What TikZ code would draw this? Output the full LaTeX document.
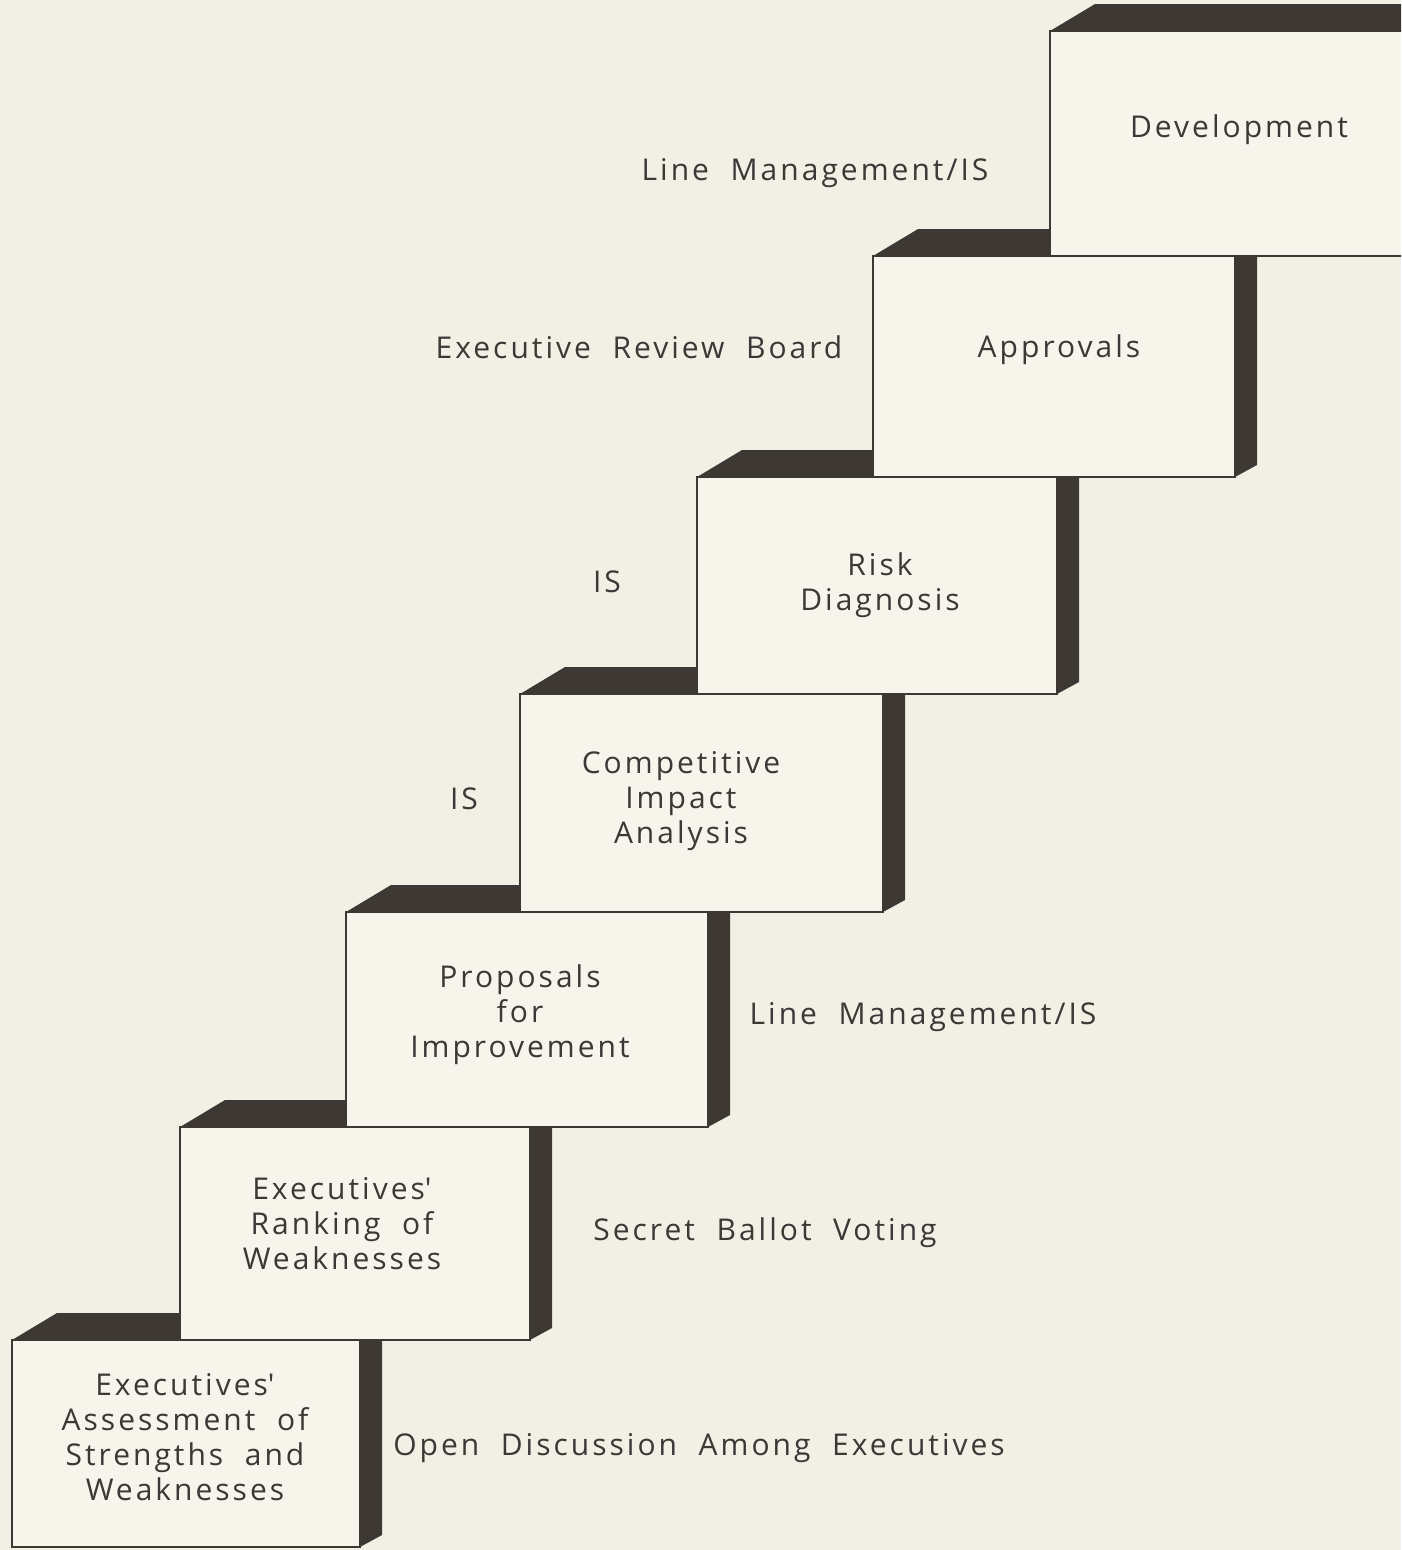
\documentclass[tikz,border=0pt]{standalone}
\usepackage{fontspec}
\setmainfont{Open Sans}[LetterSpace=10, WordSpace=2.0]
\usetikzlibrary{calc}

\definecolor{paper}{HTML}{F2F0E5}
\definecolor{facelight}{HTML}{F6F4EB}
\definecolor{shade}{HTML}{3D3833}
\definecolor{ink}{HTML}{3A3936}

\tikzset{
  front/.style={draw=shade, line width=2.2pt, fill=facelight, inner sep=0pt,
    outer sep=0pt, anchor=north west},
  shadeface/.style={fill=shade},
  % anchor=base sits on the baseline of the last line of a block
  txt/.style={text=ink, font=\fontsize{30}{35}\selectfont, align=center,
    inner sep=0pt, anchor=base},
}

% one step of the staircase: name, left, top, right, bottom (pixel units, y downwards)
\newcommand\stairbox[5]{%
  \fill[shadeface] (#4,#3-27) -- (#4+22,#3-27) -- (#4+22,#5-12) -- (#4,#5) -- cycle;
  \fill[shadeface] (#2,#3) -- (#2+45,#3-27) -- (#4,#3-27) -- (#4,#3) -- cycle;
  \node[front, minimum width={(#4-#2)*1pt}, minimum height={(#5-#3)*1pt}] (#1) at (#2,#3) {};
}

\begin{document}
\begin{tikzpicture}[x=1pt, y=-1pt]
  \useasboundingbox (0,0) rectangle (1401,1550);
  \clip (0,0) rectangle (1401,1550);
  \fill[paper] (0,0) rectangle (1401,1550);

  % steps, from the lowest to the highest
  \stairbox{b1}{12}{1340}{360}{1547}
  \stairbox{b2}{180}{1127}{530}{1340}
  \stairbox{b3}{346}{912}{708}{1127}
  \stairbox{b4}{520}{694}{883}{912}
  \stairbox{b5}{697}{477}{1057}{694}
  \stairbox{b6}{873}{256}{1235}{477}
  \stairbox{b7}{1050}{31}{1440}{256}

  % step titles
  \node[txt] (t1) at (185,1500) {Executives\textquotesingle\\Assessment of\\Strengths and\\Weaknesses};
  \node[txt] (t2) at (342,1269) {Executives\textquotesingle\\Ranking of\\Weaknesses};
  \node[txt] (t3) at (520,1057) {Proposals\\for\\Improvement};
  \node[txt] (t4) at (681,843) {Competitive\\Impact\\Analysis};
  \node[txt] (t5) at (880,610) {Risk\\Diagnosis};
  \node[txt] (t6) at (1059,357) {Approvals};
  \node[txt] (t7) at (1239,137) {Development};

  % who carries out each step
  \node[txt] (l1) at (699,1455) {Open Discussion Among Executives};
  \node[txt] (l2) at (765,1240) {Secret Ballot Voting};
  \node[txt] (l3) at (923,1024) {Line Management/IS};
  \node[txt] (l4) at (464,809) {IS};
  \node[txt] (l5) at (607,592) {IS};
  \node[txt] (l6) at (639,358) {Executive Review Board};
  \node[txt] (l7) at (815,180) {Line Management/IS};
\end{tikzpicture}
\end{document}
